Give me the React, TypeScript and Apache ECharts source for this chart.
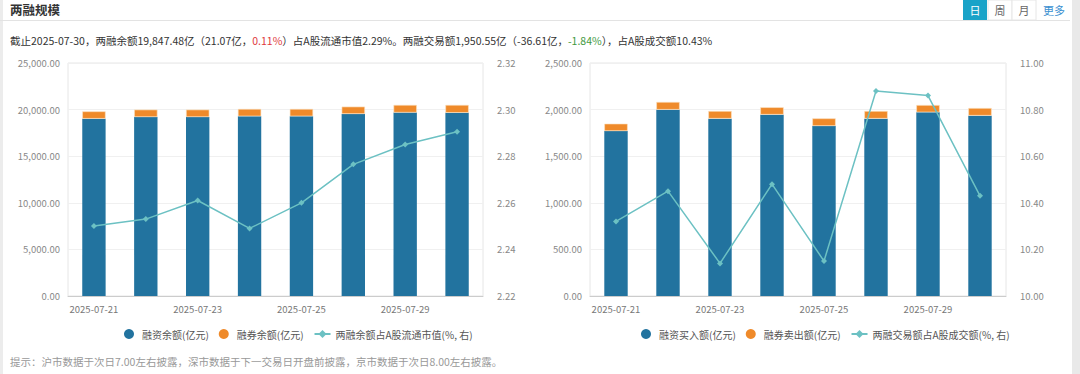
import React, { useEffect, useRef } from "react";
import * as echarts from "echarts";

const dates = ["2025-07-21", "2025-07-22", "2025-07-23", "2025-07-24", "2025-07-25", "2025-07-28", "2025-07-29", "2025-07-30"];

// left chart
const financeBalance = [19020, 19200, 19200, 19280, 19280, 19530, 19680, 19660];
const shortBalance = [790, 800, 800, 790, 790, 790, 820, 840];
const balanceRatio = [2.250, 2.253, 2.261, 2.249, 2.260, 2.2765, 2.285, 2.2905];

// right chart
const financeBuy = [1770, 1999, 1903, 1946, 1824, 1903, 1971, 1935];
const shortSell = [79, 83, 82, 79, 82, 82, 78, 82];
const tradeRatio = [10.32, 10.45, 10.14, 10.48, 10.15, 10.88, 10.86, 10.43];

const leftNames = ["融资余额(亿元)", "融券余额(亿元)", "两融余额占A股流通市值(%, 右)"];
const rightNames = ["融资买入额(亿元)", "融券卖出额(亿元)", "两融交易额占A股成交额(%, 右)"];

const BLUE = "#22739f";
const ORANGE = "#ef8a2a";
const TEAL = "#6cc1c3";
const FONT = "'Noto Sans CJK SC', 'Open Sans', sans-serif";

const fmtThousands = (v: number) =>
  v.toLocaleString("en-US", { minimumFractionDigits: 2, maximumFractionDigits: 2 });

export default function App() {
  const ref = useRef<HTMLDivElement>(null);
  useEffect(() => {
    if (!ref.current) return;
    const chart = echarts.init(ref.current, undefined, { renderer: "svg" });
    const axisLabelBase = { color: "#888", fontSize: 9.5, fontFamily: FONT };
    const xAxis = (gridIndex: number) => ({
      type: "category",
      gridIndex,
      data: dates,
      axisLine: { lineStyle: { color: "#ccc" } },
      axisTick: { alignWithLabel: true, interval: (i: number) => i % 2 === 1, lineStyle: { color: "#ccc" } },
      axisLabel: { ...axisLabelBase, interval: 1, margin: 8, color: "#777" },
    });
    const yLeft = (gridIndex: number, max: number, interval: number) => ({
      type: "value",
      gridIndex,
      min: 0,
      max,
      interval,
      axisLine: { show: false },
      axisTick: { show: false },
      splitLine: { lineStyle: { color: "#f0f0f0" } },
      axisLabel: { ...axisLabelBase, formatter: fmtThousands, margin: 8 },
    });
    const yRight = (gridIndex: number, min: number, max: number, interval: number) => ({
      type: "value",
      gridIndex,
      min,
      max,
      interval,
      position: "right",
      axisLine: { show: false },
      axisTick: { show: false },
      splitLine: { show: false },
      axisLabel: { ...axisLabelBase, formatter: (v: number) => v.toFixed(2), margin: 14 },
    });
    const legend = (names: string[], left: number) => ({
      left,
      top: 324,
      itemGap: 10,
      itemWidth: 16,
      itemHeight: 10,
      itemStyle: { borderWidth: 0 },
      textStyle: { color: "#555", fontSize: 10, fontFamily: FONT },
      data: [
        { name: names[0], icon: "circle" },
        { name: names[1], icon: "circle" },
        { name: names[2] },
      ],
    });
    const option = {
      animation: false,
      textStyle: { fontFamily: FONT },
      grid: [
        { left: 68, right: 597, top: 63, bottom: 78, show: true, borderColor: "#e6e6e6", borderWidth: 1 },
        { left: 590, right: 74, top: 63, bottom: 78, show: true, borderColor: "#e6e6e6", borderWidth: 1 },
      ],
      legend: [legend(leftNames, 119), legend(rightNames, 636)],
      xAxis: [xAxis(0), xAxis(1)],
      yAxis: [
        yLeft(0, 25000, 5000),
        yRight(0, 2.22, 2.32, 0.02),
        yLeft(1, 2500, 500),
        yRight(1, 10, 11, 0.2),
      ],
      series: [
        { name: leftNames[0], type: "bar", stack: "a", xAxisIndex: 0, yAxisIndex: 0, barWidth: "45%", data: financeBalance, itemStyle: { color: BLUE } },
        { name: leftNames[1], type: "bar", stack: "a", xAxisIndex: 0, yAxisIndex: 0, barWidth: "45%", data: shortBalance, itemStyle: { color: ORANGE, borderColor: "#fbe3c2", borderWidth: 0.6 } },
        { name: leftNames[2], type: "line", xAxisIndex: 0, yAxisIndex: 1, data: balanceRatio, symbol: "diamond", symbolSize: 6, itemStyle: { color: TEAL }, lineStyle: { color: TEAL, width: 1.5 } },
        { name: rightNames[0], type: "bar", stack: "b", xAxisIndex: 1, yAxisIndex: 2, barWidth: "45%", data: financeBuy, itemStyle: { color: BLUE } },
        { name: rightNames[1], type: "bar", stack: "b", xAxisIndex: 1, yAxisIndex: 2, barWidth: "45%", data: shortSell, itemStyle: { color: ORANGE, borderColor: "#fbe3c2", borderWidth: 0.6 } },
        { name: rightNames[2], type: "line", xAxisIndex: 1, yAxisIndex: 3, data: tradeRatio, symbol: "diamond", symbolSize: 6, itemStyle: { color: TEAL }, lineStyle: { color: TEAL, width: 1.5 } },
      ],
      graphic: [
        { type: "rect", left: 0, top: 0, shape: { width: 3, height: 374 }, style: { fill: "#ececec" }, silent: true },
        { type: "rect", left: 1072, top: 0, shape: { width: 8, height: 374 }, style: { fill: "#e9e9e9" }, silent: true },
        { type: "line", shape: { x1: 0, y1: 20.5, x2: 1070, y2: 20.5 }, style: { stroke: "#e3e3e3", lineWidth: 1 } },
        { type: "text", x: 10, y: 9, style: { text: "两融规模", fill: "#333", font: `bold 12.5px ${FONT}`, verticalAlign: "middle" } },
        { type: "rect", shape: { x: 963, y: 0, width: 24, height: 20 }, style: { fill: "#1aa3c8" } },
        { type: "text", x: 975, y: 10, style: { text: "日", fill: "#fff", font: `11px ${FONT}`, align: "center", verticalAlign: "middle" } },
        { type: "rect", shape: { x: 988, y: 0, width: 24, height: 20 }, style: { fill: "#fff", stroke: "#e6e6e6", lineWidth: 1 } },
        { type: "text", x: 1000, y: 10, style: { text: "周", fill: "#666", font: `11px ${FONT}`, align: "center", verticalAlign: "middle" } },
        { type: "rect", shape: { x: 1012, y: 0, width: 24, height: 20 }, style: { fill: "#fff", stroke: "#e6e6e6", lineWidth: 1 } },
        { type: "text", x: 1024, y: 10, style: { text: "月", fill: "#666", font: `11px ${FONT}`, align: "center", verticalAlign: "middle" } },
        { type: "text", x: 1054, y: 10, style: { text: "更多", fill: "#3a8fd0", font: `11px ${FONT}`, align: "center", verticalAlign: "middle" } },
        {
          type: "text",
          x: 10,
          y: 40,
          style: {
            text:
              "截止2025-07-30，两融余额19,847.48亿（21.07亿，{r|0.11%}）占A股流通市值2.29%。两融交易额1,950.55亿（-36.61亿，{g|-1.84%}），占A股成交额10.43%",
            fill: "#333",
            font: `10.5px ${FONT}`,
            verticalAlign: "middle",
            rich: {
              r: { fill: "#e0393c", font: `10.5px ${FONT}` },
              g: { fill: "#3f9a3f", font: `10.5px ${FONT}` },
            },
          },
        },
        {
          type: "text",
          x: 10,
          y: 361,
          style: {
            text: "提示：沪市数据于次日7.00左右披露，深市数据于下一交易日开盘前披露，京市数据于次日8.00左右披露。",
            fill: "#999",
            font: `10.5px ${FONT}`,
            verticalAlign: "middle",
          },
        },
      ],
    };
    chart.setOption(option as any);
    return () => chart.dispose();
  }, []);
  return (
    <div
      ref={ref}
      style={{ position: "fixed", left: 0, top: 0, width: 1080, height: 374, background: "#fff" }}
    />
  );
}
